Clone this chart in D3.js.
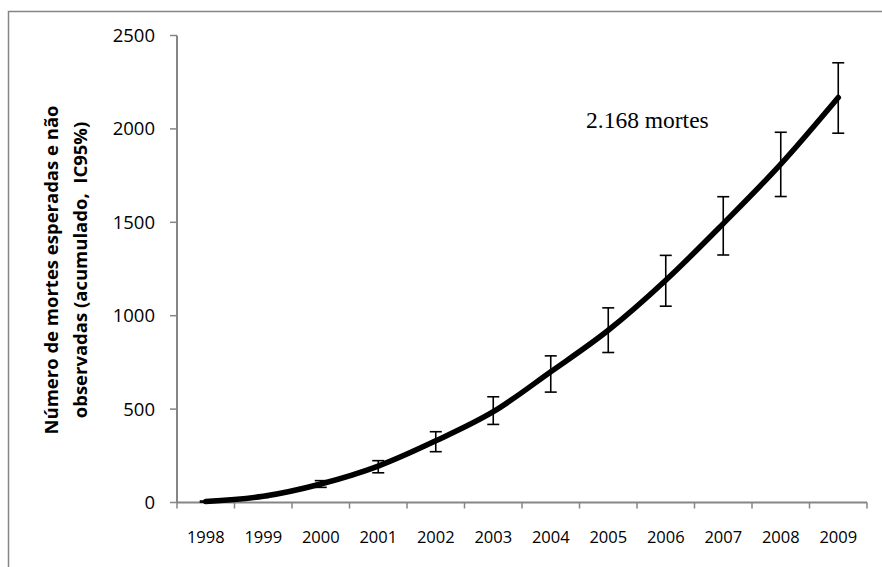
<!DOCTYPE html>
<html>
<head>
<meta charset="utf-8">
<script src="https://cdn.jsdelivr.net/npm/d3@7"></script>
<style>
  body { margin: 0; background: #fff; }
  svg { display: block; }
  text { white-space: pre; }
</style>
</head>
<body>
<svg id="chart" width="882" height="567"></svg>
<script>
const years = ['1998', '1999', '2000', '2001', '2002', '2003', '2004', '2005', '2006', '2007', '2008', '2009']
const expected = [5, 33, 99, 195, 330, 486, 700, 922, 1190, 1493, 1811, 2168]
const lower = [2, 27, 81, 159, 272, 418, 591, 803, 1051, 1325, 1638, 1977]
const upper = [8, 40, 117, 224, 379, 566, 785, 1042, 1323, 1637, 1982, 2354]
const yTicks = [0, 500, 1000, 1500, 2000, 2500]
const yLabelLines = ['Número de mortes esperadas e não', 'observadas (acumulado,  IC95%)']
const annotation = '2.168 mortes'

const data = years.map((y, i) => ({ year: y, value: expected[i], lo: lower[i], hi: upper[i] }))

const svg = d3.select('#chart')
const axisColor = '#868686'

// outer chart frame (right and bottom edges fall outside the picture)
svg.append('rect')
  .attr('x', 8.5).attr('y', 11.5)
  .attr('width', 900).attr('height', 600)
  .attr('fill', 'none')
  .attr('stroke', axisColor)
  .attr('stroke-width', 1.5)

const plot = { left: 177, right: 867, top: 35.5, bottom: 502.5 }

const x = d3.scaleBand().domain(years).range([plot.left, plot.right]).padding(0)
const y = d3.scaleLinear().domain([0, 2500]).range([plot.bottom, plot.top])

// x axis: ticks on category boundaries
const gx = svg.append('g').attr('class', 'axis axis--x')
gx.append('line')
  .attr('x1', plot.left).attr('x2', plot.right)
  .attr('y1', plot.bottom).attr('y2', plot.bottom)
  .attr('stroke', axisColor).attr('stroke-width', 2)
const bounds = years.map((d) => x(d)).concat([x(years[years.length - 1]) + x.bandwidth()])
gx.selectAll('.tick')
  .data(bounds)
  .enter()
  .append('line')
  .attr('x1', (d) => d).attr('x2', (d) => d)
  .attr('y1', plot.bottom).attr('y2', plot.bottom + 6)
  .attr('stroke', axisColor).attr('stroke-width', 1.5)
gx.selectAll('text')
  .data(years)
  .enter()
  .append('text')
  .attr('x', (d) => x(d) + x.bandwidth() / 2)
  .attr('y', 537)
  .attr('dy', '0.35em')
  .attr('text-anchor', 'middle')
  .attr('font-family', 'Open Sans, sans-serif')
  .attr('font-size', 16.5)
  .attr('fill', '#000')
  .text((d) => d)

// y axis
const gy = svg.append('g').attr('class', 'axis axis--y')
gy.append('line')
  .attr('x1', plot.left).attr('x2', plot.left)
  .attr('y1', plot.top).attr('y2', plot.bottom)
  .attr('stroke', axisColor).attr('stroke-width', 2)
gy.selectAll('.tick')
  .data(yTicks)
  .enter()
  .append('line')
  .attr('x1', plot.left - 7).attr('x2', plot.left)
  .attr('y1', (d) => y(d)).attr('y2', (d) => y(d))
  .attr('stroke', axisColor).attr('stroke-width', 1.5)
gy.selectAll('text')
  .data(yTicks)
  .enter()
  .append('text')
  .attr('x', 155)
  .attr('y', (d) => y(d))
  .attr('dy', '0.35em')
  .attr('text-anchor', 'end')
  .attr('font-family', 'Open Sans, sans-serif')
  .attr('font-size', 18.5)
  .attr('fill', '#000')
  .text((d) => d)

// y axis title, two lines
const titleX = [52, 81]
yLabelLines.forEach((line, i) => {
  svg.append('text')
    .attr('transform', `translate(${titleX[i]}, 270) rotate(-90)`)
    .attr('text-anchor', 'middle')
    .attr('dy', '0.35em')
    .attr('font-family', 'Open Sans, sans-serif')
    .attr('font-weight', 'bold')
    .attr('font-size', 18.5)
    .attr('fill', '#000')
    .text(line)
})

// expected deaths curve
const cx = (d) => x(d.year) + x.bandwidth() / 2
const line = d3.line()
  .x(cx)
  .y((d) => y(d.value))
  .curve(d3.curveCatmullRom.alpha(0))

svg.append('path')
  .datum(data)
  .attr('d', line)
  .attr('fill', 'none')
  .attr('stroke', '#000')
  .attr('stroke-width', 5.5)
  .attr('stroke-linecap', 'round')

// error bars (IC95%)
const bars = svg.selectAll('.errbar')
  .data(data)
  .enter()
  .append('g')
  .attr('class', 'errbar')
  .attr('stroke', '#000')
  .attr('stroke-width', 1.6)
bars.append('line')
  .attr('x1', cx).attr('x2', cx)
  .attr('y1', (d) => y(d.lo)).attr('y2', (d) => y(d.hi))
bars.append('line')
  .attr('x1', (d) => cx(d) - 6).attr('x2', (d) => cx(d) + 6)
  .attr('y1', (d) => y(d.hi)).attr('y2', (d) => y(d.hi))
bars.append('line')
  .attr('x1', (d) => cx(d) - 6).attr('x2', (d) => cx(d) + 6)
  .attr('y1', (d) => y(d.lo)).attr('y2', (d) => y(d.lo))

svg.append('text')
  .attr('x', 586)
  .attr('y', 128)
  .attr('font-family', 'Liberation Serif, Times New Roman, serif')
  .attr('font-size', 23.5)
  .attr('fill', '#000')
  .text(annotation)
</script>
</body>
</html>
